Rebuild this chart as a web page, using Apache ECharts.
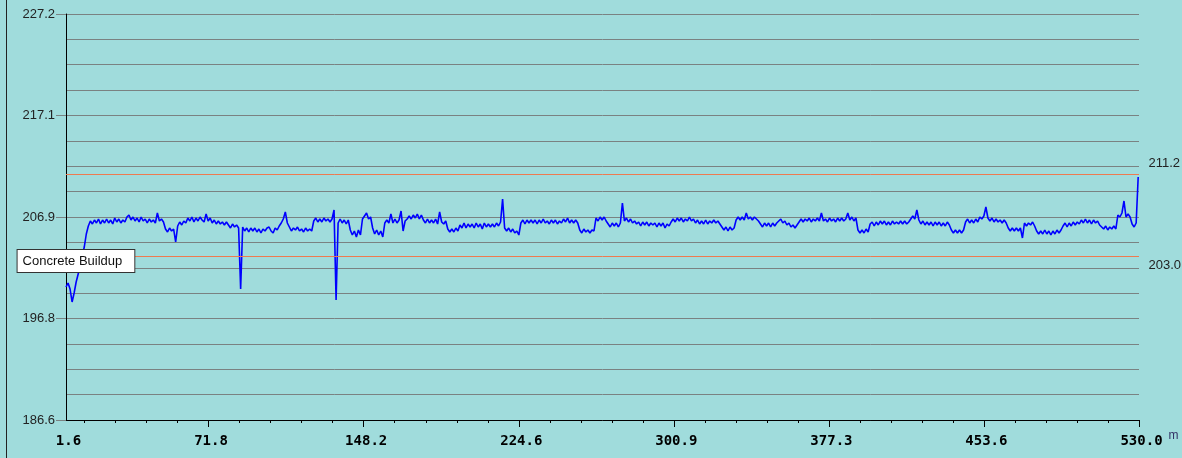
<!DOCTYPE html>
<html>
<head>
<meta charset="utf-8">
<script src="https://cdn.jsdelivr.net/npm/echarts@6/dist/echarts.min.js"></script>
<style>
  html, body { margin: 0; padding: 0; background: #a0dcdc; }
  #chart { width: 1182px; height: 458px; }
</style>
</head>
<body>
<div id="chart"></div>
<script>
// Surface elevation profile along the run, sampled every metre from 1.6 m.
const START_M = 1.6;
const STEP_M = 1.0;
const elevation = [
  199.9, 200.3, 199.7, 198.4, 199.3, 200.4, 201.2, 202.0, 203.0, 203.9,
  205.2, 206.0, 206.5, 206.2, 206.6, 206.3, 206.7, 206.2, 206.6, 206.3,
  206.7, 206.3, 206.6, 206.2, 206.8, 206.4, 206.7, 206.3, 206.6, 206.4,
  206.9, 207.1, 206.6, 206.9, 206.5, 206.8, 206.4, 206.9, 206.5, 206.7,
  206.3, 206.7, 206.4, 206.6, 206.3, 207.3, 206.5, 206.7, 206.4, 205.7,
  205.4, 205.8, 205.5, 205.7, 204.4, 206.0, 206.4, 206.1, 206.5, 206.3,
  206.8, 206.5, 206.9, 206.4, 206.8, 206.5, 206.9, 206.6, 206.4, 207.2,
  206.5, 206.8, 206.3, 206.6, 206.2, 206.5, 206.2, 206.4, 206.1, 206.4,
  206.1, 205.8, 206.2, 205.9, 206.1, 205.8, 199.7, 205.9, 205.5, 205.8,
  205.4, 205.8, 205.5, 205.8, 205.4, 205.7, 205.3, 205.7, 205.5, 205.8,
  205.9, 205.5, 205.3, 205.8, 205.6, 206.0, 206.3, 206.7, 207.4, 206.3,
  205.9, 205.5, 205.8, 205.6, 205.9, 205.5, 205.7, 205.4, 205.8, 205.5,
  205.7, 205.5, 206.5, 206.8, 206.4, 206.7, 206.4, 206.8, 206.5, 206.7,
  206.4, 206.7, 207.6, 198.6, 206.3, 206.7, 206.3, 206.6, 206.2, 206.6,
  205.6, 205.1, 205.5, 204.9, 205.6, 205.1, 206.7, 207.0, 207.3, 206.7,
  206.9, 205.8, 205.2, 205.6, 205.1, 205.5, 204.9, 206.3, 206.6, 206.3,
  207.2, 206.3, 206.7, 206.3, 206.6, 207.5, 205.5, 206.5, 206.7, 207.0,
  206.7, 207.1, 206.8, 207.2, 206.7, 207.1, 206.6, 206.3, 206.7, 206.3,
  206.6, 206.3, 206.7, 206.2, 207.4, 206.4, 206.2, 206.5, 205.7, 205.4,
  205.7, 205.4, 205.8, 205.5, 206.1, 205.8, 206.3, 205.8, 206.2, 205.9,
  206.2, 205.8, 206.3, 205.9, 206.2, 205.7, 206.3, 205.9, 206.2, 205.9,
  206.2, 205.9, 206.3, 206.0, 206.4, 208.7, 205.8, 205.5, 205.8, 205.4,
  205.7, 205.3, 205.5, 205.1, 206.3, 206.6, 206.2, 206.6, 206.3, 206.6,
  206.3, 206.6, 206.2, 206.6, 206.3, 206.7, 206.3, 206.5, 206.2, 206.6,
  206.3, 206.6, 206.2, 206.5, 206.3, 206.7, 206.4, 206.8, 206.3, 206.6,
  206.3, 206.6, 206.3, 205.6, 205.3, 205.7, 205.4, 205.6, 205.3, 205.6,
  205.5, 206.8, 206.5, 206.9, 206.6, 206.9, 206.5, 206.2, 205.9, 206.3,
  206.0, 206.3, 205.9, 206.3, 208.3, 206.5, 206.8, 206.4, 206.7, 206.3,
  206.5, 206.2, 206.4, 206.0, 206.4, 206.1, 206.4, 206.0, 206.3, 206.1,
  206.3, 205.9, 206.3, 206.0, 206.3, 205.8, 206.2, 206.0, 206.4, 206.7,
  206.4, 206.8, 206.5, 206.8, 206.4, 206.7, 206.5, 206.9, 206.5, 206.7,
  206.3, 206.6, 206.2, 206.5, 206.2, 206.6, 206.2, 206.5, 206.3, 206.6,
  206.3, 206.5, 206.2, 205.9, 205.6, 205.9, 205.5, 205.9, 205.6, 205.8,
  206.6, 206.9, 206.6, 206.9, 206.6, 207.3, 206.7, 206.9, 206.6, 206.9,
  206.7, 206.5, 206.2, 205.9, 206.3, 206.0, 206.3, 205.9, 206.3, 206.0,
  206.3, 206.5, 206.7, 206.3, 206.5, 206.1, 206.3, 205.9, 206.1, 205.8,
  206.1, 206.4, 206.7, 206.4, 206.7, 206.5, 206.8, 206.4, 206.7, 206.5,
  206.8, 206.5, 207.3, 206.5, 206.7, 206.4, 206.8, 206.5, 206.7, 206.4,
  206.8, 206.5, 206.8, 206.5, 206.7, 207.3, 206.6, 206.9, 206.5, 206.8,
  205.6, 205.3, 205.6, 205.3, 205.7, 205.4, 206.2, 206.4, 206.0, 206.4,
  206.1, 206.5, 206.2, 206.5, 206.1, 206.4, 206.1, 206.5, 206.2, 206.4,
  206.2, 206.5, 206.2, 206.5, 206.2, 206.4, 206.7, 207.0, 206.7, 207.6,
  206.6, 206.2, 206.5, 206.1, 206.4, 206.1, 206.4, 206.0, 206.4, 206.1,
  206.4, 206.0, 206.3, 206.0, 206.4, 206.1, 205.6, 205.3, 205.6, 205.3,
  205.6, 205.3, 205.6, 206.4, 206.7, 206.3, 206.6, 206.3, 206.7, 206.4,
  206.9, 206.7, 207.0, 207.9, 206.8, 206.5, 206.8, 206.4, 206.7, 206.4,
  206.6, 206.3, 206.6, 206.3, 205.8, 205.5, 205.8, 205.5, 205.8, 205.5,
  205.8, 204.8, 206.3, 206.0, 206.3, 206.1, 206.4, 206.0, 205.5, 205.2,
  205.5, 205.2, 205.6, 205.2, 205.5, 205.1, 205.5, 205.2, 205.6, 205.3,
  205.6, 206.0, 206.3, 205.9, 206.3, 206.0, 206.4, 206.1, 206.4, 206.2,
  206.6, 206.3, 206.7, 206.3, 206.6, 206.2, 206.6, 206.3, 206.5, 206.1,
  205.9, 205.7, 206.0, 205.6, 205.9, 205.7, 206.0, 205.7, 207.1, 206.9,
  207.3, 208.5, 206.9, 207.2, 206.9, 206.2, 205.9, 206.3, 210.9
];

// Axis ranges and tick labels
const X_MIN = 1.6, X_MAX = 530.0;
const Y_MIN = 186.6, Y_MAX = 227.2;
const xLabelValues = [1.6, 71.8, 148.2, 224.6, 300.9, 377.3, 453.6, 530.0];
const xMajorTicks = [71.8, 148.2, 224.6, 300.9, 377.3, 453.6, 530.0];
const Y_DIVISIONS = 16;          // grid lines
const Y_LABEL_EVERY = 4;         // a label on every 4th grid line

// Limit lines
const upperLimit = 211.2;
const lowerLimit = 203.0;
const lowerLimitName = 'Concrete Buildup';

// ---- derived tick positions ----
const yGridValues = [];
for (let k = 0; k <= Y_DIVISIONS; k++) yGridValues.push(Y_MIN + (Y_MAX - Y_MIN) * k / Y_DIVISIONS);
const yLabelValues = yGridValues.filter((_, k) => k % Y_LABEL_EVERY === 0);

const xMinorTicks = [];
for (let i = 0; i < xMajorTicks.length - 1; i++) {
  const a = xMajorTicks[i], b = xMajorTicks[i + 1];
  for (let j = 1; j < 5; j++) xMinorTicks.push(a + (b - a) * j / 5);
}
{
  const d = (xMajorTicks[1] - xMajorTicks[0]) / 5;
  for (let v = xMajorTicks[0] - d; v > X_MIN; v -= d) xMinorTicks.push(v);
}

const points = elevation.map((v, i) => [+(START_M + i * STEP_M).toFixed(1), v]);
const fmt1 = v => (v + 1e-9).toFixed(1);

const chart = echarts.init(document.getElementById('chart'), null, { renderer: 'canvas' });
const LABEL_FONT = '"Liberation Sans", Arial, sans-serif';
const MONO_FONT = '"DejaVu Sans Mono", monospace';

const valueLabel = {
  show: true, position: 'right', distance: 9,
  color: '#222', fontSize: 13, fontFamily: LABEL_FONT
};

chart.setOption({
  backgroundColor: '#a0dcdc',
  animation: false,
  grid: { left: 66, top: 14, right: 43, bottom: 38, containLabel: false },
  xAxis: [
    {
      type: 'value', min: X_MIN, max: X_MAX,
      name: 'm', nameLocation: 'end', nameGap: 29,
      nameTextStyle: { color: '#333366', fontSize: 12, fontFamily: LABEL_FONT, verticalAlign: 'top', padding: [10, 0, 0, 0] },
      axisLine: { show: true, lineStyle: { color: '#000', width: 1 } },
      axisTick: { show: true, customValues: xMajorTicks, length: 7, lineStyle: { color: '#000', width: 1 } },
      axisLabel: {
        customValues: xLabelValues, formatter: fmt1, margin: 14,
        color: '#000', fontSize: 14, fontWeight: 'bold', fontFamily: MONO_FONT,
        padding: [0, 0, 0, 5]
      },
      splitLine: { show: false }
    },
    {
      type: 'value', min: X_MIN, max: X_MAX, position: 'bottom',
      axisLine: { show: false },
      axisTick: { show: true, customValues: xMinorTicks, length: 3, lineStyle: { color: '#000', width: 1 } },
      axisLabel: { show: false },
      splitLine: { show: false }
    }
  ],
  yAxis: [
    {
      type: 'value', min: Y_MIN, max: Y_MAX,
      axisLine: { show: true, lineStyle: { color: '#000', width: 1 } },
      axisTick: { show: false, customValues: yGridValues },
      axisLabel: {
        customValues: yLabelValues, formatter: fmt1, margin: 11,
        color: '#222', fontSize: 13, fontFamily: LABEL_FONT, padding: [0, 0, 3, 0]
      },
      splitLine: { show: true, lineStyle: { color: '#7a8282', width: 1 } }
    },
    {
      type: 'value', min: Y_MIN, max: Y_MAX, position: 'left',
      axisLine: { show: false },
      axisTick: { show: true, customValues: yLabelValues, length: 10, lineStyle: { color: '#7a8282', width: 1 } },
      axisLabel: { show: false },
      splitLine: { show: false }
    }
  ],
  graphic: [
    { type: 'line', shape: { x1: 6.5, y1: 0, x2: 6.5, y2: 458 }, style: { stroke: '#222', lineWidth: 1 }, silent: true }
  ],
  series: [
    {
      type: 'line',
      xAxisIndex: 0, yAxisIndex: 0,
      data: points,
      showSymbol: false,
      symbol: 'none',
      sampling: null,
      lineStyle: { color: '#0000ff', width: 1.6 },
      markLine: {
        silent: true,
        symbol: 'none',
        lineStyle: { color: '#ee7a50', type: 'solid', width: 1 },
        label: { show: false },
        data: [{ yAxis: upperLimit }, { yAxis: lowerLimit }]
      },
      markPoint: {
        silent: true,
        symbol: 'rect',
        symbolSize: 1,
        itemStyle: { color: 'rgba(0,0,0,0)' },
        data: [
          { coord: [X_MAX, upperLimit], label: Object.assign({}, valueLabel, { formatter: fmt1(upperLimit), offset: [0, -11] }) },
          { coord: [X_MAX, lowerLimit], label: Object.assign({}, valueLabel, { formatter: fmt1(lowerLimit), offset: [0, 9] }) },
          {
            coord: [6.5, lowerLimit],
            label: {
              show: true, position: 'inside', offset: [0, 5],
              formatter: lowerLimitName,
              color: '#111', fontSize: 13, fontFamily: LABEL_FONT,
              backgroundColor: '#fff', borderColor: '#333', borderWidth: 1,
              padding: [5, 12, 4, 5]
            }
          }
        ]
      }
    }
  ]
});
</script>
</body>
</html>
